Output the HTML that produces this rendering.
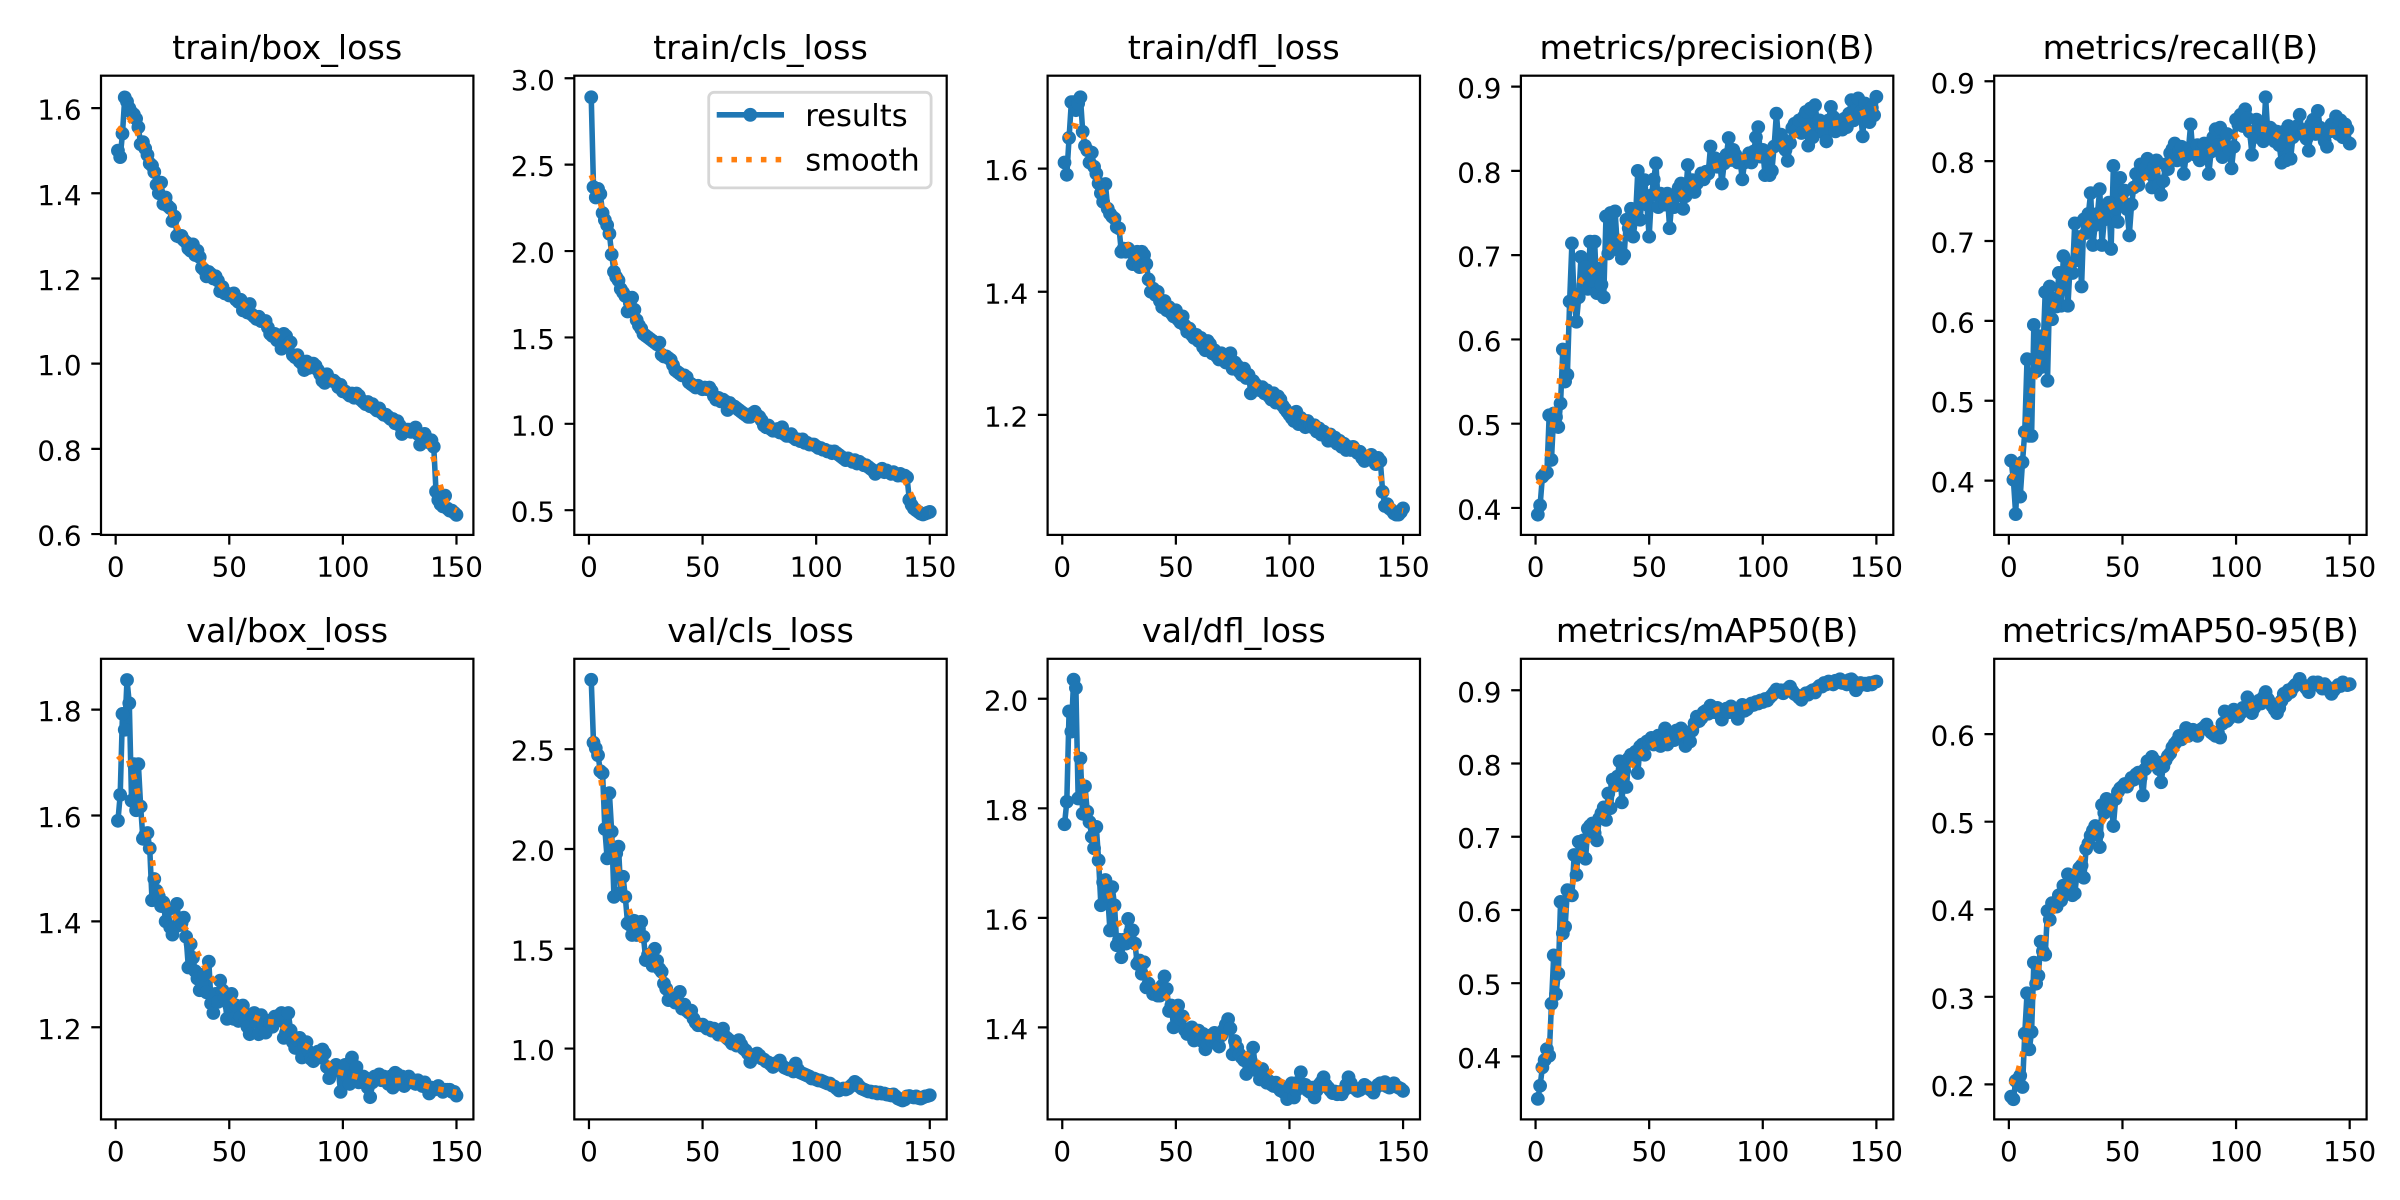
<!DOCTYPE html>
<html><head><meta charset="utf-8"><style>
html,body{margin:0;padding:0;background:#fff}
svg{display:block}
text{font-family:"DejaVu Sans","Liberation Sans",sans-serif;fill:#000}
.tk{font-size:27.78px}
.yl{text-anchor:end}
.xl{text-anchor:middle}
.ti{font-size:33.33px;text-anchor:middle}
.fr{fill:none;stroke:#000;stroke-width:2.22px}
.tm{fill:none;stroke:#000;stroke-width:2.22px}
.r{fill:none;stroke:#1f77b4;stroke-width:5.56px;stroke-linejoin:round;vector-effect:non-scaling-stroke}
.s{fill:none;stroke:#ff7f0e;stroke-width:5.56px;stroke-dasharray:5.56 9.17;stroke-linecap:butt;vector-effect:non-scaling-stroke}
</style></head><body>
<svg xmlns="http://www.w3.org/2000/svg" width="2400" height="1200" viewBox="0 0 2400 1200">
<defs>
<marker id="m1" markerUnits="userSpaceOnUse" markerWidth="1" markerHeight="1" style="overflow:visible"><ellipse rx="3.037" ry="0.0162" fill="#1f77b4"/></marker>
<marker id="m2" markerUnits="userSpaceOnUse" markerWidth="1" markerHeight="1" style="overflow:visible"><ellipse rx="3.037" ry="0.03994" fill="#1f77b4"/></marker>
<marker id="m3" markerUnits="userSpaceOnUse" markerWidth="1" markerHeight="1" style="overflow:visible"><ellipse rx="3.037" ry="0.01121" fill="#1f77b4"/></marker>
<marker id="m4" markerUnits="userSpaceOnUse" markerWidth="1" markerHeight="1" style="overflow:visible"><ellipse rx="3.037" ry="0.008189" fill="#1f77b4"/></marker>
<marker id="m5" markerUnits="userSpaceOnUse" markerWidth="1" markerHeight="1" style="overflow:visible"><ellipse rx="3.037" ry="0.00864" fill="#1f77b4"/></marker>
<marker id="m6" markerUnits="userSpaceOnUse" markerWidth="1" markerHeight="1" style="overflow:visible"><ellipse rx="3.037" ry="0.01303" fill="#1f77b4"/></marker>
<marker id="m7" markerUnits="userSpaceOnUse" markerWidth="1" markerHeight="1" style="overflow:visible"><ellipse rx="3.037" ry="0.03457" fill="#1f77b4"/></marker>
<marker id="m8" markerUnits="userSpaceOnUse" markerWidth="1" markerHeight="1" style="overflow:visible"><ellipse rx="3.037" ry="0.0126" fill="#1f77b4"/></marker>
<marker id="m9" markerUnits="userSpaceOnUse" markerWidth="1" markerHeight="1" style="overflow:visible"><ellipse rx="3.037" ry="0.009423" fill="#1f77b4"/></marker>
<marker id="m10" markerUnits="userSpaceOnUse" markerWidth="1" markerHeight="1" style="overflow:visible"><ellipse rx="3.037" ry="0.00788" fill="#1f77b4"/></marker>
</defs>
<rect x="0" y="0" width="2400" height="1200" fill="#fff"/>

<!-- ===== P1 train/box_loss ===== -->
<g transform="translate(115.66 789.63) scale(2.2721 -425.97)">
<polyline class="r" marker-start="url(#m1)" marker-mid="url(#m1)" marker-end="url(#m1)" points="1,1.5 2,1.485 3,1.54 4,1.625 5,1.615 6,1.6 7,1.59 8,1.585 9,1.575 10,1.555 11,1.515 12,1.52 13,1.505 14,1.49 15,1.47 16,1.465 17,1.45 18,1.42 19,1.4 20,1.425 21,1.375 22,1.39 23,1.37 24,1.365 25,1.335 26,1.345 27,1.3 28,1.298 29,1.3 30,1.29 31,1.285 32,1.27 33,1.265 34,1.28 35,1.255 36,1.265 37,1.25 38,1.225 39,1.22 40,1.205 41,1.215 42,1.21 43,1.2 44,1.205 45,1.195 46,1.17 47,1.18 48,1.165 49,1.165 50,1.16 51,1.16 52,1.165 53,1.15 54,1.145 55,1.15 56,1.125 57,1.13 58,1.12 59,1.14 60,1.115 61,1.11 62,1.105 63,1.11 64,1.1 65,1.1 66,1.1 67,1.085 68,1.07 69,1.065 70,1.07 71,1.055 72,1.06 73,1.035 74,1.07 75,1.065 76,1.045 77,1.05 78,1.02 79,1.015 80,1.02 81,1.005 82,1 83,0.985 84,1.005 85,0.99 86,1 87,1 88,0.995 89,0.985 90,0.975 91,0.96 92,0.955 93,0.975 94,0.965 95,0.96 96,0.96 97,0.955 98,0.945 99,0.95 100,0.935 101,0.935 102,0.93 103,0.925 104,0.93 105,0.92 106,0.93 107,0.925 108,0.915 109,0.91 110,0.905 111,0.91 112,0.9 113,0.905 114,0.895 115,0.89 116,0.895 117,0.885 118,0.88 119,0.88 120,0.875 121,0.87 122,0.87 123,0.86 124,0.865 125,0.855 126,0.835 127,0.84 128,0.845 129,0.845 130,0.84 131,0.845 132,0.85 133,0.835 134,0.81 135,0.83 136,0.835 137,0.825 138,0.815 139,0.82 140,0.805 141,0.7 142,0.68 143,0.67 144,0.665 145,0.69 146,0.66 147,0.655 148,0.655 149,0.65 150,0.645"/>
<polyline class="s" points="1,1.545 4,1.565 6,1.573 8,1.562 10,1.535 13,1.5 16,1.46 19,1.42 22,1.385 25,1.345 28,1.31 31,1.285 34,1.265 37,1.25 40,1.225 43,1.205 46,1.185 49,1.168 52,1.158 55,1.145 58,1.13 61,1.115 64,1.103 67,1.087 70,1.07 73,1.058 76,1.045 79,1.025 82,1.005 85,0.995 88,0.99 91,0.972 94,0.963 97,0.955 100,0.942 103,0.93 106,0.925 109,0.913 112,0.905 115,0.893 118,0.882 121,0.87 124,0.86 127,0.848 130,0.843 133,0.836 136,0.826 138,0.808 140,0.775 142,0.73 144,0.695 146,0.672 148,0.66 150,0.655"/>
</g>
<rect class="fr" x="101" y="75.7" width="372.4" height="459.2"/>
<path class="tm" d="M91.28 534.05H101M91.28 448.85H101M91.28 363.66H101M91.28 278.47H101M91.28 193.27H101M91.28 108.08H101M115.66 534.9v9.72M229.27 534.9v9.72M342.87 534.9v9.72M456.48 534.9v9.72"/>
<g class="tk yl"><text x="81.56" y="545.55">0.6</text><text x="81.56" y="460.35">0.8</text><text x="81.56" y="375.16">1.0</text><text x="81.56" y="289.97">1.2</text><text x="81.56" y="204.77">1.4</text><text x="81.56" y="119.58">1.6</text></g>
<g class="tk xl"><text x="115.66" y="576.6">0</text><text x="229.27" y="576.6">50</text><text x="342.87" y="576.6">100</text><text x="456.48" y="576.6">150</text></g>
<text class="ti" x="287.2" y="59.2">train/box_loss</text>

<!-- ===== P2 train/cls_loss ===== -->
<g transform="translate(588.96 596.57) scale(2.2721 -172.76)">
<polyline class="r" marker-start="url(#m2)" marker-mid="url(#m2)" marker-end="url(#m2)" points="1,2.89 2,2.37 3,2.31 4,2.36 5,2.33 6,2.22 7,2.18 8,2.15 9,2.1 10,1.98 11,1.88 12,1.85 13,1.83 14,1.78 15,1.76 16,1.74 17,1.65 18,1.7 19,1.73 20,1.66 21,1.6 22,1.57 23,1.55 24,1.52 25,1.51 26,1.5 27,1.49 28,1.48 29,1.47 30,1.46 31,1.47 32,1.4 33,1.39 34,1.39 35,1.38 36,1.37 37,1.34 38,1.31 39,1.3 40,1.29 41,1.28 42,1.28 43,1.27 44,1.24 45,1.23 46,1.22 47,1.21 48,1.22 49,1.21 50,1.2 51,1.21 52,1.2 53,1.21 54,1.19 55,1.16 56,1.14 57,1.15 58,1.13 59,1.14 60,1.13 61,1.08 62,1.12 63,1.1 64,1.1 65,1.09 66,1.08 67,1.07 68,1.06 69,1.05 70,1.04 71,1.04 72,1.06 73,1.07 74,1.05 75,1.04 76,1.02 77,0.99 78,0.98 79,0.99 80,0.97 81,0.96 82,0.96 83,0.97 84,0.95 85,0.98 86,0.94 87,0.93 88,0.93 89,0.94 90,0.92 91,0.91 92,0.91 93,0.9 94,0.91 95,0.89 96,0.89 97,0.88 98,0.88 99,0.88 100,0.87 101,0.86 102,0.86 103,0.85 104,0.85 105,0.84 106,0.84 107,0.83 108,0.84 109,0.83 110,0.82 111,0.81 112,0.8 113,0.79 114,0.8 115,0.79 116,0.78 117,0.79 118,0.77 119,0.78 120,0.77 121,0.76 122,0.76 123,0.75 124,0.74 125,0.73 126,0.71 127,0.72 128,0.73 129,0.74 130,0.72 131,0.73 132,0.72 133,0.71 134,0.72 135,0.71 136,0.7 137,0.71 138,0.7 139,0.7 140,0.69 141,0.56 142,0.53 143,0.51 144,0.5 145,0.49 146,0.48 147,0.475 148,0.48 149,0.485 150,0.49"/>
<polyline class="s" points="1,2.44 3,2.37 5,2.28 7,2.18 9,2.07 11,1.95 13,1.85 15,1.77 17,1.7 19,1.64 21,1.59 23,1.55 25,1.515 28,1.48 31,1.44 34,1.4 37,1.35 40,1.3 43,1.265 46,1.235 49,1.21 52,1.195 55,1.17 58,1.14 61,1.11 64,1.09 67,1.07 70,1.05 73,1.035 76,1.015 79,0.99 82,0.97 85,0.955 88,0.935 91,0.92 94,0.905 97,0.89 100,0.875 103,0.86 106,0.845 109,0.83 112,0.815 115,0.8 118,0.785 121,0.775 124,0.76 127,0.745 130,0.735 133,0.725 136,0.71 138,0.69 140,0.645 142,0.585 144,0.535 146,0.505 148,0.49 150,0.487"/>
</g>
<rect class="fr" x="574.3" y="75.7" width="372.4" height="459.2"/>
<path class="tm" d="M564.58 510.19H574.3M564.58 423.81H574.3M564.58 337.43H574.3M564.58 251.05H574.3M564.58 164.67H574.3M564.58 78.29H574.3M588.96 534.9v9.72M702.57 534.9v9.72M816.17 534.9v9.72M929.78 534.9v9.72"/>
<g class="tk yl"><text x="554.86" y="521.69">0.5</text><text x="554.86" y="435.31">1.0</text><text x="554.86" y="348.93">1.5</text><text x="554.86" y="262.55">2.0</text><text x="554.86" y="176.17">2.5</text><text x="554.86" y="89.79">3.0</text></g>
<g class="tk xl"><text x="588.96" y="576.6">0</text><text x="702.57" y="576.6">50</text><text x="816.17" y="576.6">100</text><text x="929.78" y="576.6">150</text></g>
<text class="ti" x="760.5" y="59.2">train/cls_loss</text>
<!-- legend -->
<rect x="708.7" y="92.3" width="222.4" height="95.6" rx="5.5" ry="5.5" fill="#fff" fill-opacity="0.8" stroke="#cccccc" stroke-opacity="0.8" stroke-width="2.78"/>
<line x1="719.5" y1="114.8" x2="781.2" y2="114.8" stroke="#1f77b4" stroke-width="5.56" stroke-linecap="square"/>
<circle cx="750.3" cy="114.8" r="6.95" fill="#1f77b4"/>
<text x="805.3" y="126.2" style="font-size:30.56px">results</text>
<line x1="716.7" y1="159.6" x2="781.2" y2="159.6" stroke="#ff7f0e" stroke-width="5.56" stroke-dasharray="5.56 9.17"/>
<text x="805.3" y="170.4" style="font-size:30.56px">smooth</text>

<!-- ===== P3 train/dfl_loss ===== -->
<g transform="translate(1062.26 1153.53) scale(2.2721 -615.55)">
<polyline class="r" marker-start="url(#m3)" marker-mid="url(#m3)" marker-end="url(#m3)" points="1,1.61 2,1.59 3,1.65 4,1.708 5,1.708 6,1.695 7,1.706 8,1.716 9,1.66 10,1.637 11,1.63 12,1.61 13,1.626 14,1.603 15,1.592 16,1.576 17,1.56 18,1.546 19,1.575 20,1.535 21,1.527 22,1.522 23,1.519 24,1.505 25,1.503 26,1.465 27,1.47 28,1.465 29,1.47 30,1.465 31,1.445 32,1.455 33,1.465 34,1.44 35,1.465 36,1.46 37,1.445 38,1.42 39,1.4 40,1.405 41,1.395 42,1.4 43,1.385 44,1.375 45,1.385 46,1.37 47,1.375 48,1.365 49,1.36 50,1.37 51,1.355 52,1.35 53,1.36 54,1.345 55,1.335 56,1.34 57,1.33 58,1.325 59,1.33 60,1.32 61,1.325 62,1.31 63,1.305 64,1.32 65,1.315 66,1.3 67,1.305 68,1.295 69,1.29 70,1.3 71,1.29 72,1.285 73,1.29 74,1.3 75,1.275 76,1.285 77,1.28 78,1.27 79,1.265 80,1.275 81,1.26 82,1.265 83,1.235 84,1.255 85,1.25 86,1.245 87,1.24 88,1.245 89,1.235 90,1.24 91,1.23 92,1.225 93,1.235 94,1.22 95,1.23 96,1.225 97,1.215 98,1.21 99,1.205 100,1.2 101,1.195 102,1.19 103,1.205 104,1.185 105,1.195 106,1.19 107,1.18 108,1.19 109,1.185 110,1.18 111,1.183 112,1.173 113,1.178 114,1.168 115,1.173 116,1.168 117,1.158 118,1.168 119,1.158 120,1.163 121,1.153 122,1.158 123,1.148 124,1.153 125,1.143 126,1.148 127,1.143 128,1.148 129,1.143 130,1.138 131,1.14 132,1.13 133,1.125 134,1.13 135,1.128 136,1.135 137,1.125 138,1.12 139,1.13 140,1.125 141,1.075 142,1.052 143,1.055 144,1.048 145,1.045 146,1.04 147,1.038 148,1.038 149,1.042 150,1.048"/>
<polyline class="s" points="1,1.65 2,1.652 5,1.67 8,1.667 11,1.63 14,1.6 16,1.577 18,1.558 21,1.534 24,1.512 27,1.487 30,1.468 34,1.449 39,1.411 46,1.381 53,1.354 62,1.319 72,1.29 82,1.258 87,1.243 93,1.231 100,1.206 109,1.192 119,1.17 125,1.154 132,1.146 137,1.13 139,1.115 141,1.086 144,1.056 147,1.046 150,1.044"/>
</g>
<rect class="fr" x="1047.6" y="75.7" width="372.4" height="459.2"/>
<path class="tm" d="M1037.88 414.87H1047.6M1037.88 291.76H1047.6M1037.88 168.65H1047.6M1062.26 534.9v9.72M1175.87 534.9v9.72M1289.47 534.9v9.72M1403.08 534.9v9.72"/>
<g class="tk yl"><text x="1028.16" y="426.37">1.2</text><text x="1028.16" y="303.26">1.4</text><text x="1028.16" y="180.15">1.6</text></g>
<g class="tk xl"><text x="1062.26" y="576.6">0</text><text x="1175.87" y="576.6">50</text><text x="1289.47" y="576.6">100</text><text x="1403.08" y="576.6">150</text></g>
<text class="ti" x="1233.8" y="59.2">train/dfl_loss</text>

<!-- ===== P4 precision ===== -->
<g transform="translate(1535.56 844.97) scale(2.2721 -842.57)">
<polyline class="r" marker-start="url(#m4)" marker-mid="url(#m4)" marker-end="url(#m4)" points="1,0.392 2,0.403 3,0.437 4,0.44 5,0.442 6,0.51 7,0.457 8,0.512 9,0.508 10,0.496 11,0.524 12,0.588 13,0.55 14,0.558 15,0.645 16,0.714 17,0.645 18,0.621 19,0.65 20,0.698 21,0.664 22,0.686 23,0.66 24,0.716 25,0.67 26,0.716 27,0.655 28,0.684 29,0.665 30,0.65 31,0.746 32,0.702 33,0.75 34,0.718 35,0.752 36,0.71 37,0.705 38,0.696 39,0.7 40,0.742 41,0.732 42,0.755 43,0.722 44,0.745 45,0.8 46,0.742 47,0.773 48,0.789 49,0.76 50,0.722 51,0.771 52,0.79 53,0.809 54,0.757 55,0.773 56,0.769 57,0.76 58,0.773 59,0.732 60,0.765 61,0.757 62,0.77 63,0.78 64,0.785 65,0.755 66,0.77 67,0.807 68,0.777 69,0.789 70,0.775 71,0.785 72,0.789 73,0.797 74,0.79 75,0.799 76,0.797 77,0.829 78,0.805 79,0.815 80,0.805 81,0.813 82,0.785 83,0.809 84,0.819 85,0.839 86,0.813 87,0.825 88,0.819 89,0.81 90,0.813 91,0.79 92,0.81 93,0.815 94,0.821 95,0.81 96,0.823 97,0.84 98,0.852 99,0.817 100,0.825 101,0.795 102,0.813 103,0.795 104,0.8 105,0.829 106,0.868 107,0.835 108,0.843 109,0.837 110,0.825 111,0.812 112,0.833 113,0.851 114,0.856 115,0.849 116,0.86 117,0.845 118,0.864 119,0.87 120,0.83 121,0.874 122,0.84 123,0.878 124,0.858 125,0.86 126,0.851 127,0.845 128,0.835 129,0.86 130,0.876 131,0.864 132,0.847 133,0.852 134,0.86 135,0.849 136,0.862 137,0.852 138,0.868 139,0.884 140,0.86 141,0.872 142,0.886 143,0.87 144,0.841 145,0.88 146,0.87 147,0.858 148,0.875 149,0.866 150,0.888"/>
<polyline class="s" points="1,0.428 2,0.432 5,0.46 7,0.49 9,0.525 12,0.575 14,0.615 17,0.65 20,0.67 25,0.682 29,0.695 33,0.71 37,0.72 41,0.738 44,0.75 47,0.765 53,0.774 58,0.765 63,0.77 68,0.783 73,0.793 78,0.805 84,0.81 89,0.815 95,0.818 101,0.815 106,0.827 111,0.837 116,0.845 122,0.855 128,0.855 135,0.858 141,0.866 147,0.872 150,0.874"/>
</g>
<rect class="fr" x="1520.9" y="75.7" width="372.4" height="459.2"/>
<path class="tm" d="M1511.18 507.94H1520.9M1511.18 423.69H1520.9M1511.18 339.43H1520.9M1511.18 255.17H1520.9M1511.18 170.91H1520.9M1511.18 86.66H1520.9M1535.56 534.9v9.72M1649.17 534.9v9.72M1762.77 534.9v9.72M1876.38 534.9v9.72"/>
<g class="tk yl"><text x="1501.46" y="519.44">0.4</text><text x="1501.46" y="435.19">0.5</text><text x="1501.46" y="350.93">0.6</text><text x="1501.46" y="266.67">0.7</text><text x="1501.46" y="182.41">0.8</text><text x="1501.46" y="98.16">0.9</text></g>
<g class="tk xl"><text x="1535.56" y="576.6">0</text><text x="1649.17" y="576.6">50</text><text x="1762.77" y="576.6">100</text><text x="1876.38" y="576.6">150</text></g>
<text class="ti" x="1707.1" y="59.2">metrics/precision(B)</text>

<!-- ===== P5 recall ===== -->
<g transform="translate(2008.86 800.04) scale(2.2721 -798.61)">
<polyline class="r" marker-start="url(#m5)" marker-mid="url(#m5)" marker-end="url(#m5)" points="1,0.425 2,0.401 3,0.358 4,0.42 5,0.38 6,0.423 7,0.461 8,0.552 9,0.456 10,0.456 11,0.595 12,0.537 13,0.581 14,0.542 15,0.56 16,0.636 17,0.525 18,0.643 19,0.602 20,0.628 21,0.618 22,0.66 23,0.619 24,0.681 25,0.657 26,0.619 27,0.672 28,0.66 29,0.722 30,0.676 31,0.705 32,0.643 33,0.727 34,0.71 35,0.734 36,0.76 37,0.695 38,0.72 39,0.734 40,0.765 41,0.695 42,0.727 43,0.743 44,0.748 45,0.69 46,0.794 47,0.741 48,0.724 49,0.779 50,0.746 51,0.763 52,0.74 53,0.707 54,0.746 55,0.767 56,0.784 57,0.77 58,0.796 59,0.784 60,0.791 61,0.803 62,0.784 63,0.767 64,0.794 65,0.801 66,0.77 67,0.758 68,0.775 69,0.796 70,0.79 71,0.81 72,0.815 73,0.822 74,0.801 75,0.813 76,0.818 77,0.784 78,0.806 79,0.813 80,0.846 81,0.81 82,0.808 83,0.82 84,0.801 85,0.815 86,0.822 87,0.808 88,0.784 89,0.812 90,0.83 91,0.84 92,0.82 93,0.842 94,0.805 95,0.82 96,0.834 97,0.815 98,0.791 99,0.818 100,0.852 101,0.846 102,0.858 103,0.844 104,0.865 105,0.854 106,0.837 107,0.808 108,0.83 109,0.852 110,0.844 111,0.839 112,0.825 113,0.88 114,0.834 115,0.842 116,0.839 117,0.825 118,0.837 119,0.82 120,0.798 121,0.837 122,0.801 123,0.844 124,0.803 125,0.83 126,0.837 127,0.844 128,0.858 129,0.834 130,0.839 131,0.828 132,0.813 133,0.846 134,0.852 135,0.834 136,0.863 137,0.842 138,0.839 139,0.825 140,0.818 141,0.837 142,0.846 143,0.844 144,0.856 145,0.834 146,0.851 147,0.83 148,0.846 149,0.84 150,0.822"/>
<polyline class="s" points="1,0.402 4,0.42 7,0.46 10,0.51 13,0.55 16,0.585 19,0.615 22,0.635 25,0.655 28,0.675 31,0.7 34,0.718 37,0.728 40,0.732 43,0.74 46,0.745 49,0.75 52,0.757 55,0.765 58,0.775 61,0.782 64,0.787 67,0.79 70,0.797 73,0.804 76,0.808 79,0.81 82,0.81 85,0.81 88,0.812 91,0.818 94,0.822 97,0.826 100,0.832 103,0.838 106,0.84 109,0.84 112,0.84 115,0.838 118,0.832 121,0.827 124,0.828 127,0.834 130,0.837 133,0.838 136,0.838 139,0.837 142,0.836 145,0.837 148,0.838 150,0.838"/>
</g>
<rect class="fr" x="1994.2" y="75.7" width="372.4" height="459.2"/>
<path class="tm" d="M1984.48 480.6H1994.2M1984.48 400.74H1994.2M1984.48 320.87H1994.2M1984.48 241.01H1994.2M1984.48 161.15H1994.2M1984.48 81.29H1994.2M2008.86 534.9v9.72M2122.47 534.9v9.72M2236.07 534.9v9.72M2349.68 534.9v9.72"/>
<g class="tk yl"><text x="1974.76" y="492.1">0.4</text><text x="1974.76" y="412.24">0.5</text><text x="1974.76" y="332.37">0.6</text><text x="1974.76" y="252.51">0.7</text><text x="1974.76" y="172.65">0.8</text><text x="1974.76" y="92.79">0.9</text></g>
<g class="tk xl"><text x="2008.86" y="576.6">0</text><text x="2122.47" y="576.6">50</text><text x="2236.07" y="576.6">100</text><text x="2349.68" y="576.6">150</text></g>
<text class="ti" x="2180.4" y="59.2">metrics/recall(B)</text>

<!-- ===== P6 val/box_loss ===== -->
<g transform="translate(115.66 1662.6) scale(2.2721 -529.43)">
<polyline class="r" marker-start="url(#m6)" marker-mid="url(#m6)" marker-end="url(#m6)" points="1,1.59 2,1.639 3,1.792 4,1.762 5,1.856 6,1.812 7,1.628 8,1.697 9,1.61 10,1.697 11,1.617 12,1.556 13,1.563 14,1.567 15,1.538 16,1.44 17,1.48 18,1.458 19,1.447 20,1.429 21,1.436 22,1.4 23,1.422 24,1.389 25,1.375 26,1.389 27,1.433 28,1.393 29,1.397 30,1.407 31,1.371 32,1.313 33,1.357 34,1.331 35,1.306 36,1.292 37,1.27 38,1.284 39,1.3 40,1.266 41,1.324 42,1.245 43,1.227 44,1.263 45,1.248 46,1.288 47,1.27 48,1.256 49,1.216 50,1.241 51,1.263 52,1.216 53,1.241 54,1.212 55,1.22 56,1.241 57,1.212 58,1.201 59,1.187 60,1.223 61,1.227 62,1.209 63,1.187 64,1.223 65,1.205 66,1.19 67,1.212 68,1.209 69,1.201 70,1.22 71,1.212 72,1.223 73,1.227 74,1.18 75,1.19 76,1.227 77,1.194 78,1.172 79,1.161 80,1.176 81,1.18 82,1.143 83,1.165 84,1.172 85,1.154 86,1.14 87,1.136 88,1.147 89,1.154 90,1.143 91,1.158 92,1.151 93,1.125 94,1.104 95,1.118 96,1.122 97,1.129 98,1.118 99,1.078 100,1.125 101,1.129 102,1.107 103,1.093 104,1.143 105,1.111 106,1.125 107,1.096 108,1.1 109,1.107 110,1.104 111,1.086 112,1.068 113,1.096 114,1.107 115,1.104 116,1.111 117,1.1 118,1.107 119,1.104 120,1.093 121,1.107 122,1.086 123,1.114 124,1.111 125,1.1 126,1.107 127,1.089 128,1.104 129,1.107 130,1.096 131,1.1 132,1.093 133,1.1 134,1.096 135,1.089 136,1.096 137,1.086 138,1.075 139,1.086 140,1.082 141,1.086 142,1.089 143,1.082 144,1.078 145,1.082 146,1.082 147,1.082 148,1.078 149,1.078 150,1.071"/>
<polyline class="s" points="1,1.705 3,1.713 5,1.711 7,1.69 9,1.657 11,1.618 13,1.578 15,1.545 17,1.494 19,1.469 21,1.447 24,1.418 28,1.398 31,1.385 35,1.35 38,1.324 41,1.299 45,1.281 49,1.263 54,1.241 59,1.223 65,1.212 71,1.209 77,1.19 81,1.172 86,1.158 92,1.14 96,1.118 102,1.111 108,1.104 113,1.095 119,1.098 126,1.1 132,1.095 139,1.086 145,1.081 150,1.077"/>
</g>
<rect class="fr" x="101" y="658.8" width="372.4" height="460.6"/>
<path class="tm" d="M91.28 1027.28H101M91.28 921.4H101M91.28 815.5H101M91.28 709.6H101M115.66 1119.4v9.72M229.27 1119.4v9.72M342.87 1119.4v9.72M456.48 1119.4v9.72"/>
<g class="tk yl"><text x="81.56" y="1038.78">1.2</text><text x="81.56" y="932.9">1.4</text><text x="81.56" y="827">1.6</text><text x="81.56" y="721.1">1.8</text></g>
<g class="tk xl"><text x="115.66" y="1161.1">0</text><text x="229.27" y="1161.1">50</text><text x="342.87" y="1161.1">100</text><text x="456.48" y="1161.1">150</text></g>
<text class="ti" x="287.2" y="642.1">val/box_loss</text>

<!-- ===== P7 val/cls_loss ===== -->
<g transform="translate(588.96 1248.13) scale(2.2721 -199.57)">
<polyline class="r" marker-start="url(#m7)" marker-mid="url(#m7)" marker-end="url(#m7)" points="1,2.848 2,2.533 3,2.505 4,2.47 5,2.39 6,2.38 7,2.1 8,1.953 9,2.28 10,2.087 11,1.76 12,1.978 13,2.012 14,1.78 15,1.861 16,1.76 17,1.627 18,1.62 19,1.569 20,1.64 21,1.569 22,1.6 23,1.635 24,1.56 25,1.443 26,1.47 27,1.455 28,1.415 29,1.5 30,1.44 31,1.4 32,1.385 33,1.326 34,1.3 35,1.243 36,1.25 37,1.26 38,1.23 39,1.24 40,1.284 41,1.2 42,1.22 43,1.19 44,1.18 45,1.19 46,1.15 47,1.13 48,1.117 49,1.117 50,1.12 51,1.11 52,1.1 53,1.105 54,1.09 55,1.1 56,1.085 57,1.07 58,1.08 59,1.1 60,1.06 61,1.05 62,1.04 63,1.025 64,1.03 65,1.015 66,1.042 67,1.02 68,1 69,0.99 70,0.975 71,0.933 72,0.965 73,0.96 74,0.975 75,0.965 76,0.95 77,0.945 78,0.935 79,0.93 80,0.92 81,0.908 82,0.925 83,0.93 84,0.94 85,0.915 86,0.905 87,0.9 88,0.895 89,0.9 90,0.885 91,0.925 92,0.895 93,0.88 94,0.875 95,0.87 96,0.865 97,0.86 98,0.85 99,0.85 100,0.845 101,0.84 102,0.84 103,0.835 104,0.83 105,0.825 106,0.825 107,0.815 108,0.81 109,0.8 110,0.79 111,0.795 112,0.8 113,0.795 114,0.8 115,0.81 116,0.82 117,0.833 118,0.825 119,0.81 120,0.8 121,0.795 122,0.79 123,0.785 124,0.785 125,0.78 126,0.782 127,0.775 128,0.78 129,0.774 130,0.775 131,0.77 132,0.768 133,0.765 134,0.77 135,0.76 136,0.75 137,0.745 138,0.74 139,0.745 140,0.76 141,0.762 142,0.758 143,0.755 144,0.76 145,0.752 146,0.749 147,0.755 148,0.76 149,0.762 150,0.766"/>
<polyline class="s" points="1,2.56 2,2.547 3,2.5 4,2.44 5,2.37 6,2.29 7,2.22 8,2.15 9,2.075 10,2.037 11,1.99 12,1.94 13,1.89 14,1.845 15,1.8 16,1.755 18,1.686 20,1.62 22,1.56 24,1.52 26,1.487 29,1.427 32,1.36 36,1.29 39,1.234 44,1.172 48,1.126 54,1.09 58,1.05 64,1.017 70,0.975 77,0.942 83,0.916 88,0.9 95,0.875 101,0.85 107,0.825 115,0.812 120,0.805 126,0.79 132,0.783 138,0.774 145,0.766 150,0.766"/>
</g>
<rect class="fr" x="574.3" y="658.8" width="372.4" height="460.6"/>
<path class="tm" d="M564.58 1048.56H574.3M564.58 948.78H574.3M564.58 848.99H574.3M564.58 749.2H574.3M588.96 1119.4v9.72M702.57 1119.4v9.72M816.17 1119.4v9.72M929.78 1119.4v9.72"/>
<g class="tk yl"><text x="554.86" y="1060.06">1.0</text><text x="554.86" y="960.28">1.5</text><text x="554.86" y="860.49">2.0</text><text x="554.86" y="760.7">2.5</text></g>
<g class="tk xl"><text x="588.96" y="1161.1">0</text><text x="702.57" y="1161.1">50</text><text x="816.17" y="1161.1">100</text><text x="929.78" y="1161.1">150</text></g>
<text class="ti" x="760.5" y="642.1">val/cls_loss</text>

<!-- ===== P8 val/dfl_loss ===== -->
<g transform="translate(1062.26 1794.14) scale(2.2721 -547.68)">
<polyline class="r" marker-start="url(#m8)" marker-mid="url(#m8)" marker-end="url(#m8)" points="1,1.771 2,1.812 3,1.977 4,1.94 5,2.035 6,2.02 7,1.818 8,1.891 9,1.79 10,1.84 11,1.794 12,1.775 13,1.748 14,1.727 15,1.766 16,1.705 17,1.623 18,1.665 19,1.669 20,1.64 21,1.577 22,1.656 23,1.623 24,1.55 25,1.56 26,1.528 27,1.56 28,1.553 29,1.598 30,1.575 31,1.577 32,1.553 33,1.516 34,1.522 35,1.498 36,1.519 37,1.473 38,1.48 39,1.47 40,1.461 41,1.465 42,1.458 43,1.458 44,1.476 45,1.493 46,1.47 47,1.43 48,1.44 49,1.4 50,1.425 51,1.44 52,1.415 53,1.42 54,1.395 55,1.388 56,1.391 57,1.4 58,1.376 59,1.38 60,1.394 61,1.376 62,1.388 63,1.36 64,1.37 65,1.385 66,1.375 67,1.39 68,1.37 69,1.365 70,1.385 71,1.395 72,1.405 73,1.415 74,1.398 75,1.351 76,1.375 77,1.363 78,1.351 79,1.345 80,1.34 81,1.315 82,1.345 83,1.339 84,1.363 85,1.327 86,1.32 87,1.305 88,1.324 89,1.31 90,1.299 91,1.302 92,1.296 93,1.293 94,1.299 95,1.29 96,1.285 97,1.283 98,1.28 99,1.269 100,1.292 101,1.298 102,1.272 103,1.285 104,1.3 105,1.318 106,1.29 107,1.295 108,1.285 109,1.282 110,1.29 111,1.272 112,1.285 113,1.295 114,1.3 115,1.309 116,1.295 117,1.29 118,1.285 119,1.28 120,1.283 121,1.278 122,1.282 123,1.278 124,1.285 125,1.295 126,1.309 127,1.298 128,1.29 129,1.288 130,1.284 131,1.286 132,1.29 133,1.295 134,1.292 135,1.288 136,1.285 137,1.281 138,1.29 139,1.295 140,1.298 141,1.295 142,1.3 143,1.292 144,1.29 145,1.295 146,1.298 147,1.292 148,1.29 149,1.288 150,1.284"/>
<polyline class="s" points="1,1.885 2,1.887 4,1.9 6,1.904 8,1.876 9,1.849 10,1.824 11,1.797 13,1.771 14,1.745 15,1.71 16,1.695 17,1.685 19,1.665 21,1.638 23,1.614 25,1.589 28,1.568 32,1.546 35,1.522 38,1.499 41,1.474 46,1.455 50,1.434 55,1.417 59,1.397 64,1.383 71,1.383 76,1.372 80,1.354 86,1.336 91,1.321 96,1.302 101,1.293 105,1.291 110,1.289 115,1.288 121,1.287 130,1.288 140,1.29 150,1.29"/>
</g>
<rect class="fr" x="1047.6" y="658.8" width="372.4" height="460.6"/>
<path class="tm" d="M1037.88 1027.39H1047.6M1037.88 917.85H1047.6M1037.88 808.32H1047.6M1037.88 698.78H1047.6M1062.26 1119.4v9.72M1175.87 1119.4v9.72M1289.47 1119.4v9.72M1403.08 1119.4v9.72"/>
<g class="tk yl"><text x="1028.16" y="1038.89">1.4</text><text x="1028.16" y="929.35">1.6</text><text x="1028.16" y="819.82">1.8</text><text x="1028.16" y="710.28">2.0</text></g>
<g class="tk xl"><text x="1062.26" y="1161.1">0</text><text x="1175.87" y="1161.1">50</text><text x="1289.47" y="1161.1">100</text><text x="1403.08" y="1161.1">150</text></g>
<text class="ti" x="1233.8" y="642.1">val/dfl_loss</text>

<!-- ===== P9 mAP50 ===== -->
<g transform="translate(1535.56 1349.33) scale(2.2721 -732.27)">
<polyline class="r" marker-start="url(#m9)" marker-mid="url(#m9)" marker-end="url(#m9)" points="1,0.342 2,0.36 3,0.385 4,0.395 5,0.41 6,0.401 7,0.472 8,0.538 9,0.485 10,0.513 11,0.611 12,0.568 13,0.577 14,0.627 15,0.622 16,0.62 17,0.675 18,0.648 19,0.693 20,0.69 21,0.695 22,0.67 23,0.711 24,0.715 25,0.718 26,0.705 27,0.695 28,0.725 29,0.732 30,0.74 31,0.723 32,0.759 33,0.739 34,0.778 35,0.77 36,0.782 37,0.803 38,0.747 39,0.79 40,0.768 41,0.807 42,0.812 43,0.805 44,0.816 45,0.787 46,0.823 47,0.826 48,0.812 49,0.83 50,0.828 51,0.835 52,0.826 53,0.832 54,0.838 55,0.824 56,0.83 57,0.848 58,0.826 59,0.835 60,0.84 61,0.832 62,0.845 63,0.838 64,0.848 65,0.84 66,0.824 67,0.835 68,0.83 69,0.845 70,0.855 71,0.864 72,0.858 73,0.862 74,0.87 75,0.872 76,0.868 77,0.879 78,0.874 79,0.87 80,0.876 81,0.868 82,0.86 83,0.872 84,0.875 85,0.87 86,0.878 87,0.872 88,0.868 89,0.861 90,0.876 91,0.88 92,0.872 93,0.874 94,0.878 95,0.882 96,0.88 97,0.884 98,0.882 99,0.886 100,0.884 101,0.888 102,0.886 103,0.89 104,0.893 105,0.897 106,0.901 107,0.898 108,0.9 109,0.896 110,0.899 111,0.902 112,0.905 113,0.899 114,0.895 115,0.893 116,0.89 117,0.887 118,0.892 119,0.896 120,0.894 121,0.898 122,0.9 123,0.897 124,0.903 125,0.906 126,0.905 127,0.91 128,0.908 129,0.912 130,0.91 131,0.908 132,0.913 133,0.911 134,0.915 135,0.91 136,0.912 137,0.908 138,0.914 139,0.915 140,0.912 141,0.9 142,0.905 143,0.91 144,0.908 145,0.909 146,0.907 147,0.91 148,0.908 149,0.911 150,0.912"/>
<polyline class="s" points="1,0.38 2,0.383 5,0.403 6,0.425 7,0.455 8,0.49 10,0.522 11,0.56 13,0.6 16,0.625 17,0.65 20,0.677 23,0.695 27,0.711 30,0.73 35,0.766 39,0.782 43,0.8 47,0.816 52,0.826 58,0.832 64,0.839 69,0.848 74,0.864 80,0.874 86,0.874 92,0.877 99,0.885 105,0.892 110,0.897 117,0.895 124,0.902 130,0.908 135,0.911 142,0.909 148,0.911 150,0.911"/>
</g>
<rect class="fr" x="1520.9" y="658.8" width="372.4" height="460.6"/>
<path class="tm" d="M1511.18 1056.42H1520.9M1511.18 983.2H1520.9M1511.18 909.97H1520.9M1511.18 836.74H1520.9M1511.18 763.51H1520.9M1511.18 690.29H1520.9M1535.56 1119.4v9.72M1649.17 1119.4v9.72M1762.77 1119.4v9.72M1876.38 1119.4v9.72"/>
<g class="tk yl"><text x="1501.46" y="1067.92">0.4</text><text x="1501.46" y="994.7">0.5</text><text x="1501.46" y="921.47">0.6</text><text x="1501.46" y="848.24">0.7</text><text x="1501.46" y="775.01">0.8</text><text x="1501.46" y="701.79">0.9</text></g>
<g class="tk xl"><text x="1535.56" y="1161.1">0</text><text x="1649.17" y="1161.1">50</text><text x="1762.77" y="1161.1">100</text><text x="1876.38" y="1161.1">150</text></g>
<text class="ti" x="1707.1" y="642.1">metrics/mAP50(B)</text>

<!-- ===== P10 mAP50-95 ===== -->
<g transform="translate(2008.86 1259.51) scale(2.2721 -875.67)">
<polyline class="r" marker-start="url(#m10)" marker-mid="url(#m10)" marker-end="url(#m10)" points="1,0.186 2,0.183 3,0.204 4,0.206 5,0.21 6,0.197 7,0.258 8,0.304 9,0.24 10,0.26 11,0.339 12,0.315 13,0.324 14,0.363 15,0.352 16,0.348 17,0.398 18,0.388 19,0.407 20,0.405 21,0.403 22,0.416 23,0.41 24,0.427 25,0.42 26,0.44 27,0.43 28,0.416 29,0.418 30,0.44 31,0.447 32,0.45 33,0.436 34,0.469 35,0.475 36,0.484 37,0.49 38,0.495 39,0.485 40,0.471 41,0.519 42,0.51 43,0.526 44,0.515 45,0.52 46,0.495 47,0.526 48,0.534 49,0.538 50,0.54 51,0.543 52,0.54 53,0.545 54,0.55 55,0.548 56,0.554 57,0.556 58,0.55 59,0.53 60,0.56 61,0.569 62,0.565 63,0.574 64,0.57 65,0.568 66,0.56 67,0.545 68,0.563 69,0.57 70,0.575 71,0.578 72,0.585 73,0.589 74,0.592 75,0.598 76,0.594 77,0.6 78,0.607 79,0.598 80,0.602 81,0.605 82,0.602 83,0.598 84,0.604 85,0.606 86,0.608 87,0.611 88,0.605 89,0.602 90,0.6 91,0.598 92,0.602 93,0.596 94,0.612 95,0.626 96,0.615 97,0.618 98,0.622 99,0.628 100,0.625 101,0.62 102,0.624 103,0.63 104,0.628 105,0.642 106,0.632 107,0.624 108,0.63 109,0.635 110,0.638 111,0.635 112,0.642 113,0.648 114,0.64 115,0.636 116,0.632 117,0.628 118,0.624 119,0.63 120,0.638 121,0.646 122,0.644 123,0.65 124,0.648 125,0.653 126,0.656 127,0.658 128,0.663 129,0.657 130,0.655 131,0.652 132,0.648 133,0.655 134,0.659 135,0.657 136,0.659 137,0.655 138,0.652 139,0.657 140,0.654 141,0.65 142,0.646 143,0.65 144,0.653 145,0.656 146,0.655 147,0.659 148,0.657 149,0.656 150,0.657"/>
<polyline class="s" points="1,0.2 4,0.215 7,0.245 9,0.274 13,0.333 17,0.381 21,0.407 26,0.427 31,0.453 37,0.486 41,0.499 47,0.525 52,0.539 57,0.55 62,0.561 67,0.569 73,0.58 77,0.591 83,0.6 89,0.604 94,0.613 100,0.622 105,0.631 111,0.637 117,0.636 123,0.646 129,0.653 135,0.655 141,0.653 148,0.656 150,0.657"/>
</g>
<rect class="fr" x="1994.2" y="658.8" width="372.4" height="460.6"/>
<path class="tm" d="M1984.48 1084.38H1994.2M1984.48 996.81H1994.2M1984.48 909.24H1994.2M1984.48 821.68H1994.2M1984.48 734.11H1994.2M2008.86 1119.4v9.72M2122.47 1119.4v9.72M2236.07 1119.4v9.72M2349.68 1119.4v9.72"/>
<g class="tk yl"><text x="1974.76" y="1095.88">0.2</text><text x="1974.76" y="1008.31">0.3</text><text x="1974.76" y="920.74">0.4</text><text x="1974.76" y="833.18">0.5</text><text x="1974.76" y="745.61">0.6</text></g>
<g class="tk xl"><text x="2008.86" y="1161.1">0</text><text x="2122.47" y="1161.1">50</text><text x="2236.07" y="1161.1">100</text><text x="2349.68" y="1161.1">150</text></g>
<text class="ti" x="2180.4" y="642.1">metrics/mAP50-95(B)</text>
</svg>
</body></html>
